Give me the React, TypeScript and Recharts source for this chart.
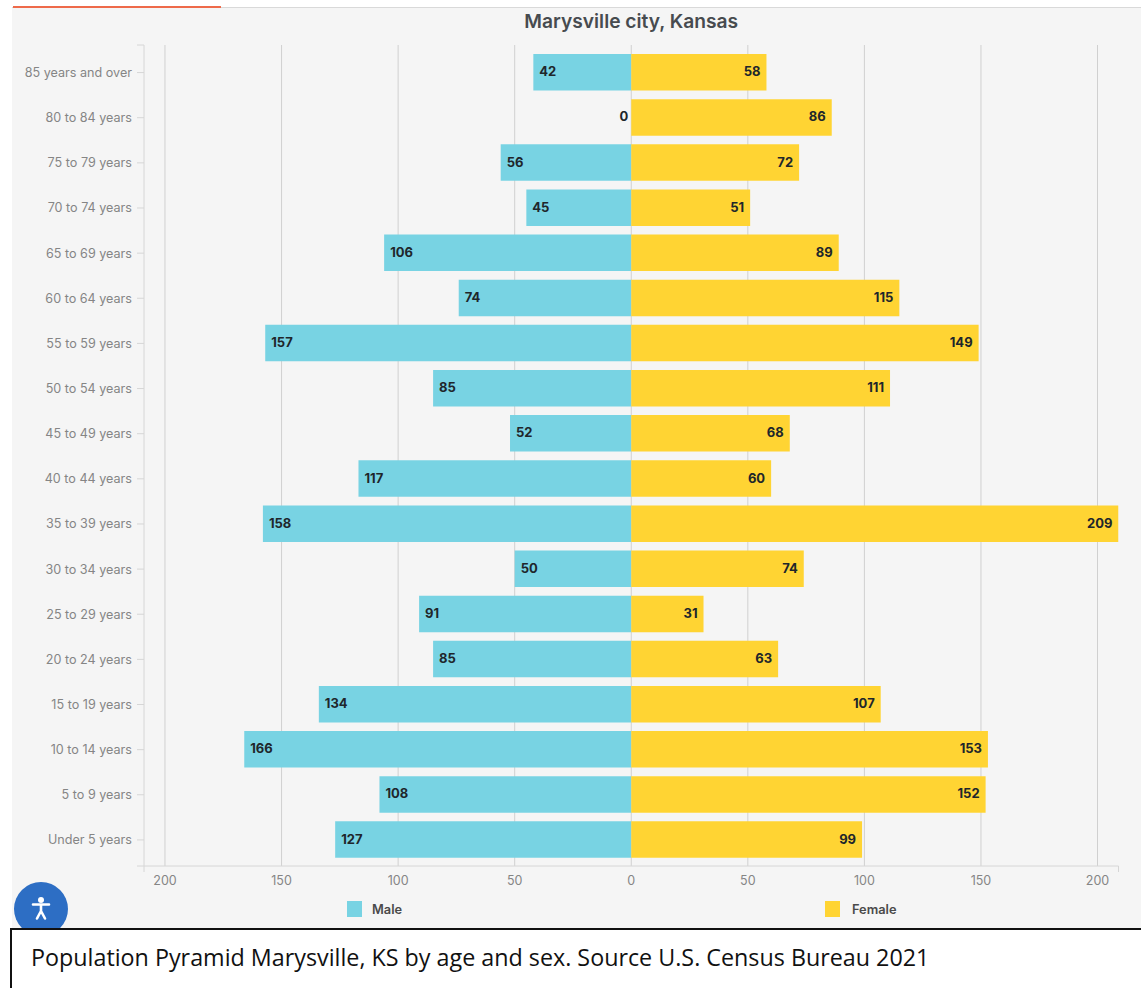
import { Bar, BarChart, CartesianGrid, LabelList, Legend, XAxis, YAxis, usePlotArea } from "recharts";

const ageGroups = [
  "85 years and over", "80 to 84 years", "75 to 79 years", "70 to 74 years", "65 to 69 years", "60 to 64 years",
  "55 to 59 years", "50 to 54 years", "45 to 49 years", "40 to 44 years", "35 to 39 years", "30 to 34 years",
  "25 to 29 years", "20 to 24 years", "15 to 19 years", "10 to 14 years", "5 to 9 years", "Under 5 years",
];
const maleCounts = [42, 0, 56, 45, 106, 74, 157, 85, 52, 117, 158, 50, 91, 85, 134, 166, 108, 127];
const femaleCounts = [58, 86, 72, 51, 89, 115, 149, 111, 68, 60, 209, 74, 31, 63, 107, 153, 152, 99];
const xTicks = [-200, -150, -100, -50, 0, 50, 100, 150, 200];
const maxCount = 209;

const CHART_TITLE = "Marysville city, Kansas";
const CAPTION = "Population Pyramid Marysville, KS by age and sex. Source U.S. Census Bureau 2021";

const MALE_COLOR = "#78d3e3";
const FEMALE_COLOR = "#ffd433";
const AXIS_COLOR = "#d6d6d6";
const CHART_FONT = "Inter, sans-serif";

// male values go negative so the bars grow left of the zero line
const rows = ageGroups.map((age, i) => ({
  age,
  male: maleCounts[i] === 0 ? 0 : -maleCounts[i],
  female: femaleCounts[i],
}));

const labelStyle = { fontSize: 13, fontWeight: 700, fontFamily: CHART_FONT, fill: "#20262b" };

function MaleLabel({ x, y, width, height, value }: any) {
  return (
    <text x={x + width + 6} y={y + height / 2 - 1} dominantBaseline="central" {...labelStyle}>
      {Math.abs(Number(value))}
    </text>
  );
}

// a zero-width male bar gets no label of its own, so its 0 is drawn from the female row
function FemaleLabel({ x, y, width, height, value, index }: any) {
  return (
    <g>
      <text x={x + width - 6} y={y + height / 2 - 1} textAnchor="end" dominantBaseline="central" {...labelStyle}>
        {value}
      </text>
      {maleCounts[index] === 0 && (
        <text x={x - 3} y={y + height / 2 - 1} textAnchor="end" dominantBaseline="central" {...labelStyle}>
          {maleCounts[index]}
        </text>
      )}
    </g>
  );
}

// short end caps on the two axis lines plus the chart heading
function AxisCaps() {
  const plot = usePlotArea();
  if (!plot) return null;
  const right = plot.x + plot.width;
  const bottom = plot.y + plot.height;
  return (
    <g>
      <g stroke={AXIS_COLOR} strokeWidth={1}>
        <line x1={plot.x - 7} x2={plot.x} y1={plot.y} y2={plot.y} />
        <line x1={plot.x - 7} x2={plot.x} y1={bottom} y2={bottom} />
        <line x1={plot.x} x2={plot.x} y1={bottom} y2={bottom + 6} />
        <line x1={right} x2={right} y1={bottom} y2={bottom + 6} />
      </g>
      <text
        x={plot.x + plot.width / 2}
        y={21}
        textAnchor="middle"
        dominantBaseline="central"
        fontSize={19.2}
        fontWeight={600}
        fontFamily={CHART_FONT}
        fill="#474b4f"
      >
        {CHART_TITLE}
      </text>
    </g>
  );
}

function LegendItems() {
  const items = [
    { name: "Male", color: MALE_COLOR, left: 347, textLeft: 372 },
    { name: "Female", color: FEMALE_COLOR, left: 825, textLeft: 852 },
  ];
  return (
    <div style={{ position: "relative", height: 16, fontFamily: CHART_FONT }}>
      {items.map((item) => (
        <div key={item.name}>
          <span style={{ position: "absolute", left: item.left, top: 0, width: 15, height: 16, background: item.color }} />
          <span style={{ position: "absolute", left: item.textLeft, top: 0, fontSize: 12.8, lineHeight: "17px", fontWeight: 600, color: "#4a4a4a" }}>
            {item.name}
          </span>
        </div>
      ))}
    </div>
  );
}

function AccessibilityButton() {
  return (
    <svg width={60} height={60} style={{ position: "absolute", left: 11, top: 879 }}>
      <circle cx={30} cy={30} r={27} fill="#2d6ec4" />
      <circle cx={30} cy={21} r={3} fill="#fff" />
      <path d="M22 25.5 L38 25.5 M30 25.5 L30 32 M30 32 L26 39.5 M30 32 L34 39.5" stroke="#fff" strokeWidth={2.6} strokeLinecap="round" fill="none" />
    </svg>
  );
}

export default function App() {
  return (
    <div style={{ position: "absolute", left: 0, top: 0, width: 1141, height: 988, overflow: "hidden", background: "#fff" }}>
      <div style={{ position: "absolute", left: 12, top: 7, width: 1129, height: 925, background: "#f5f5f5", borderTop: "1px solid #d9d9d9", boxSizing: "border-box" }} />
      <div style={{ position: "absolute", left: 13, top: 6, width: 208, height: 2, background: "#ee6a4a" }} />

      <div style={{ position: "absolute", left: 0, top: 0 }}>
        <BarChart
          width={1141}
          height={988}
          data={rows}
          layout="vertical"
          stackOffset="sign"
          barSize={36.5}
          margin={{ top: 45, right: 22.5, bottom: 76, left: 0 }}
        >
          <CartesianGrid horizontal={false} stroke="#d0d0d0" verticalValues={xTicks} />
          <XAxis
            type="number"
            domain={[-maxCount, maxCount]}
            ticks={xTicks}
            allowDataOverflow
            height={30}
            tickFormatter={(v: number) => String(Math.abs(v))}
            tick={{ fontSize: 12.5, fill: "#858585", fontFamily: CHART_FONT }}
            tickLine={false}
            tickMargin={4}
            axisLine={{ stroke: AXIS_COLOR }}
          />
          <YAxis
            type="category"
            dataKey="age"
            width={144}
            interval={0}
            padding={{ top: 5, bottom: 3.5 }}
            tick={{ fontSize: 12.6, fill: "#858585", fontFamily: CHART_FONT }}
            tickSize={7}
            tickMargin={5}
            tickLine={{ stroke: AXIS_COLOR }}
            axisLine={{ stroke: AXIS_COLOR }}
          />
          <Legend verticalAlign="bottom" content={<LegendItems />} wrapperStyle={{ left: 0, top: 901, width: 1141, bottom: "auto" }} />
          <Bar dataKey="male" name="Male" stackId="pyramid" fill={MALE_COLOR} isAnimationActive={false}>
            <LabelList dataKey="male" content={<MaleLabel />} />
          </Bar>
          <Bar dataKey="female" name="Female" stackId="pyramid" fill={FEMALE_COLOR} isAnimationActive={false}>
            <LabelList dataKey="female" content={<FemaleLabel />} />
          </Bar>
          <AxisCaps />
        </BarChart>
      </div>

      <AccessibilityButton />

      <div
        style={{
          position: "absolute",
          left: 10,
          top: 928,
          width: 1200,
          height: 100,
          boxSizing: "border-box",
          border: "2px solid #111",
          background: "#fff",
          paddingLeft: 19,
          paddingTop: 11,
          fontFamily: "'Open Sans', sans-serif",
          fontSize: 23.3,
          color: "#111",
          whiteSpace: "nowrap",
        }}
      >
        {CAPTION}
      </div>
    </div>
  );
}
